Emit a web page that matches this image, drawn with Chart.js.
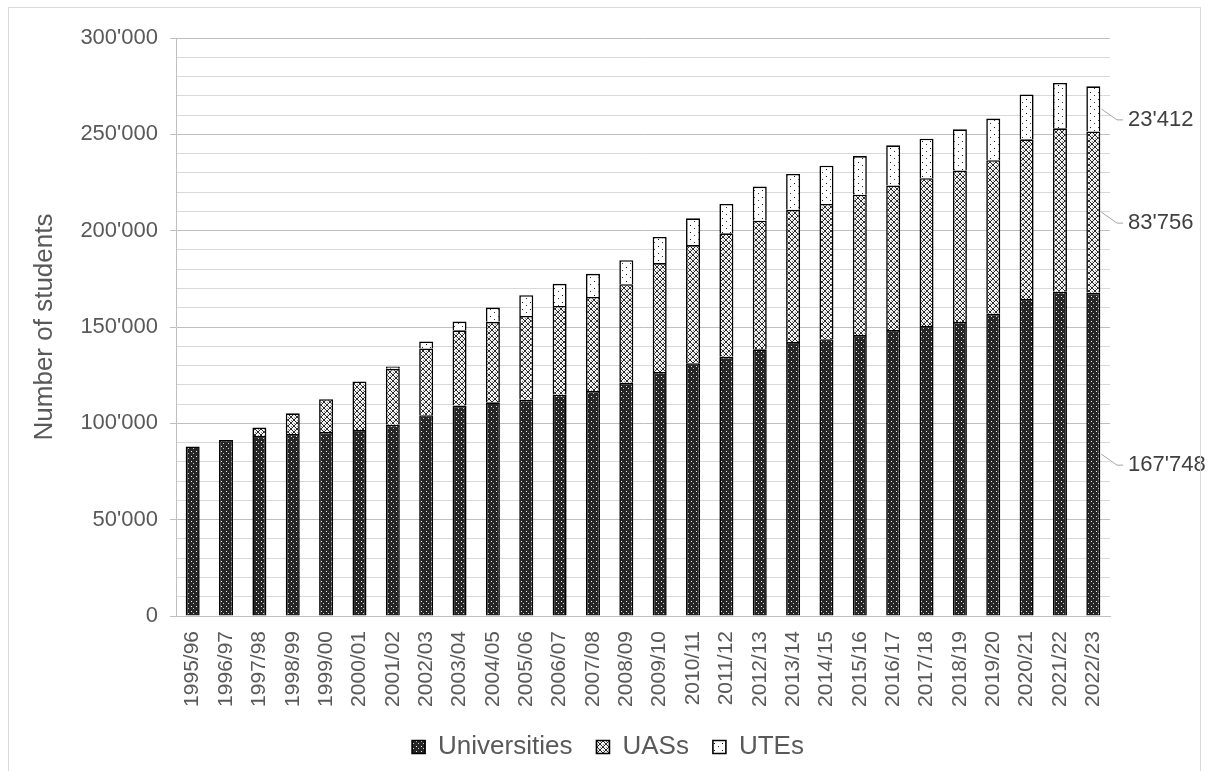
<!DOCTYPE html>
<html>
<head>
<meta charset="utf-8">
<script src="https://cdn.jsdelivr.net/npm/chart.js@4/dist/chart.umd.min.js"></script>
<style>
  html,body{margin:0;padding:0;background:#fff;overflow:hidden;}
  #wrap{position:relative;width:1208px;height:771px;}
  #frame{position:absolute;left:8px;top:7px;width:1191px;height:800px;border:1px solid #d9d9d9;pointer-events:none;}
</style>
</head>
<body>
<div id="wrap">
<canvas id="c" width="1208" height="771"></canvas>
<div id="frame"></div>
</div>
<script>
const categories = ["1995/96","1996/97","1997/98","1998/99","1999/00","2000/01","2001/02","2002/03","2003/04","2004/05","2005/06","2006/07","2007/08","2008/09","2009/10","2010/11","2011/12","2012/13","2013/14","2014/15","2015/16","2016/17","2017/18","2018/19","2019/20","2020/21","2021/22","2022/23"];
const universities = [88000,91300,93400,94400,95500,96500,99300,104200,109200,110900,112200,114900,116800,121000,126700,131200,134500,138400,142200,143700,145800,148400,150500,152600,156900,164500,168300,167748];
const uass = [0,0,4500,10800,17000,25200,29000,34700,39100,41800,43500,46000,48800,51200,56500,61300,64100,66800,68600,70200,72900,75000,76700,78600,79700,82900,84800,83756];
const utes = [0,0,0,0,0,0,1200,3600,4500,7400,10800,11500,12000,12500,13500,13900,15300,17700,18600,19800,20000,20900,20500,21400,21600,23300,23600,23412];
const seriesNames = ["Universities","UASs","UTEs"];
const yTickMax = 300000, yMinorStep = 10000, yMajorStep = 50000;

const FONT = "'Liberation Sans', Arial, sans-serif";
const TXT = '#595959';

function makePattern(w, h, draw){
  const c = document.createElement('canvas'); c.width = w; c.height = h;
  const g = c.getContext('2d'); draw(g);
  return g.createPattern(c, 'repeat');
}
const ctx = document.getElementById('c').getContext('2d');
const patUni = makePattern(5, 5, g => {
  g.fillStyle = '#262626'; g.fillRect(0,0,5,5);
  g.fillStyle = '#f0f0f0'; g.fillRect(1,1,1,1);
  g.fillStyle = '#c8c8c8'; g.fillRect(3,3,1,1);
});
const patUas = makePattern(6, 6, g => {
  g.fillStyle = '#f2f2f2'; g.fillRect(0,0,6,6);
  g.fillStyle = '#2a2a2a';
  for (let i=0;i<6;i++){ g.fillRect(i,i,1,1); g.fillRect(i,5-i,1,1); }
  g.fillStyle = '#8a8a8a';
  g.fillRect(3,0,1,1); g.fillRect(0,3,1,1);
});
const patUte = makePattern(8, 7, g => {
  g.fillStyle = '#ffffff'; g.fillRect(0,0,8,7);
  g.fillStyle = '#111'; g.fillRect(2,1,1,1);
  g.fillStyle = '#333'; g.fillRect(6,4,1,1);
});

function fmt(n){ return Math.round(n).toString().replace(/\B(?=(\d{3})+(?!\d))/g, "'"); }

const lastLabels = {
  id: 'lastLabels',
  afterDatasetsDraw(chart){
    const g = chart.ctx;
    const last = categories.length - 1;
    g.save();
    chart.data.datasets.forEach((ds, i) => {
      const bar = chart.getDatasetMeta(i).data[last];
      const p = bar.getProps(['x','y','base','width'], true);
      const mid = (p.y + p.base) / 2;
      const x0 = p.x + p.width/2 + 1;
      const ly = mid + 11;
      g.strokeStyle = '#a6a6a6'; g.lineWidth = 1;
      g.beginPath(); g.moveTo(x0, mid); g.lineTo(1117, ly); g.lineTo(1123, ly); g.stroke();
      g.fillStyle = '#404040'; g.font = '22px ' + FONT;
      g.textAlign = 'left'; g.textBaseline = 'middle';
      g.fillText(fmt(ds.data[last]), 1128, ly);
    });
    g.restore();
  }
};

const common = { borderColor: '#000', borderWidth: 1.6, barPercentage: 0.42, categoryPercentage: 1.0 };

new Chart(ctx, {
  type: 'bar',
  data: {
    labels: categories,
    datasets: [
      Object.assign({ label: seriesNames[0], data: universities, backgroundColor: patUni }, common),
      Object.assign({ label: seriesNames[1], data: uass, backgroundColor: patUas }, common),
      Object.assign({ label: seriesNames[2], data: utes, backgroundColor: patUte }, common)
    ]
  },
  options: {
    responsive: false, animation: false, devicePixelRatio: 1,
    layout: { padding: { left: 8, right: 0, top: 38, bottom: 1 } },
    plugins: {
      legend: {
        position: 'bottom',
        labels: { font: { size: 26, family: FONT }, color: TXT, boxWidth: 13, boxHeight: 13, padding: 24 }
      },
      tooltip: { enabled: false }
    },
    scales: {
      x: {
        stacked: true,
        grid: { display: false, drawTicks: false },
        border: { color: '#bfbfbf' },
        ticks: { minRotation: 90, maxRotation: 90, autoSkip: false, font: { size: 21, family: FONT }, color: TXT, padding: 15 },
        afterFit(s){ s.height = 94; }
      },
      y: {
        stacked: true, min: 0, max: yTickMax,
        ticks: {
          stepSize: yMinorStep, autoSkip: false,
          callback: v => (v % yMajorStep === 0 ? fmt(v) : ''),
          font: { size: 22, family: FONT }, color: TXT, padding: 12
        },
        grid: {
          color: c => (c.tick && c.tick.value % yMajorStep === 0 ? '#bfbfbf' : '#d9d9d9'),
          tickColor: c => (c.tick && c.tick.value % yMajorStep === 0 ? '#bfbfbf' : 'rgba(0,0,0,0)'),
          tickLength: 6
        },
        border: { color: '#bfbfbf' },
        title: { display: true, text: 'Number of students', font: { size: 26, family: FONT }, color: TXT, padding: { top: 21, bottom: 0 } },
        afterFit(s){ s.width = 168; }
      },
      yRight: {
        position: 'right', display: true, min: 0, max: yTickMax,
        grid: { drawOnChartArea: false, drawTicks: false },
        border: { display: false },
        ticks: { display: false },
        afterFit(s){ s.width = 98; }
      }
    }
  },
  plugins: [lastLabels]
});
</script>
</body>
</html>
